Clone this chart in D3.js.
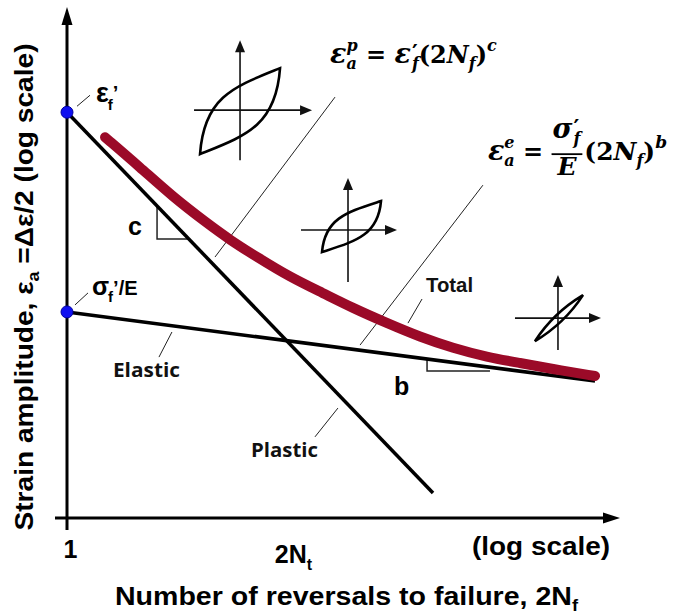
<!DOCTYPE html>
<html><head><meta charset="utf-8">
<script src="https://cdn.jsdelivr.net/npm/d3@7"></script>
<style>body{margin:0;background:#fff}svg{display:block}</style>
</head><body><svg id="c" width="673" height="614"></svg>
<script>
// ---------------- data ----------------
const plasticN = [1, 42950];
const plasticEps = [0.5, 0.000765];
const elasticN = [1, 4.83e6];
const elasticEps = [0.0167, 0.00515];
const totalN = [3.03, 8.4, 22, 59, 116, 254, 665, 1740, 4170, 11200, 29400, 76900, 207000, 542000, 1.42e6, 4.83e6];
const totalEps = [0.327, 0.196, 0.118, 0.0757, 0.0568, 0.0425, 0.0302, 0.0230, 0.0178, 0.0138, 0.0109, 0.00902, 0.00774, 0.00700, 0.00631, 0.00561];
const xTickValues = [1, 665];
const xTickLabels = ["1", "2N_t"];
const anchorN = [1, 1];
const anchorEps = [0.5, 0.0167];
const slopeCornerN = [13.8, 36100];
const slopeCornerEps = [0.0577, 0.0061];
const slopeEndN = [null, 226000];
const slopeLabels = ["c", "b"];
const loopN = [155, 3606, 1.64e6];
const loopEps = [0.518, 0.0673, 0.01503];
const leaderTopN = [2470, 184000, 31200, 21.3, 2690];
const leaderTopEps = [0.647, 0.1445, 0.0208, 0.01186, 0.00325];
const leaderBotN = [74.7, 5120, 20700, 14.6, 1377];
const leaderBotEps = [0.0425, 0.0095, 0.0138, 0.00774, 0.00199];
const curveLabels = ["Elastic", "Plastic", "Total"];

// ---------------- setup ----------------
const svg = d3.select("#c");
const SANS = "'Liberation Sans', Arial, sans-serif";
const NB = "\u00A0";
const x = d3.scaleLog().domain([1, 1e7]).range([67, 620]);
const y = d3.scaleLog().domain([5e-4, 3]).range([518, 7]);
const logInterp = (n0, n1, e0, e1, n) => Math.exp(Math.log(e0) + (Math.log(e1) - Math.log(e0)) * (Math.log(n) - Math.log(n0)) / (Math.log(n1) - Math.log(n0)));
const logInterpInv = (n0, n1, e0, e1, e) => Math.exp(Math.log(n0) + (Math.log(n1) - Math.log(n0)) * (Math.log(e) - Math.log(e0)) / (Math.log(e1) - Math.log(e0)));

function rich(parent, x0, y0, segs, opts) {
  const t = parent.append("text")
    .attr("font-family", opts.family).attr("font-weight", opts.weight || "bold")
    .attr("font-style", opts.style || "normal").attr("font-size", opts.size).attr("fill", "#000");
  let cx = x0, prevStart = x0, prevW = 0;
  segs.forEach(s => {
    const sp = t.append("tspan").attr("y", y0 + (s.dy || 0)).text(s.t);
    if (s.size) sp.attr("font-size", s.size);
    if (s.style) sp.attr("font-style", s.style);
    const sx = (s.stack ? prevStart : cx) + (s.dx || 0);
    sp.attr("x", sx);
    const w = sp.node().getComputedTextLength();
    if (s.stack) { cx = Math.max(prevStart + prevW, sx + w); }
    else { prevStart = sx; prevW = w; cx = sx + w; }
  });
  return { node: t, width: cx - x0 };
}

// ---------------- axes ----------------
const axG = svg.append("g");
axG.append("line").attr("x1", 67).attr("x2", 67).attr("y1", 530).attr("y2", 20)
  .attr("stroke", "#000").attr("stroke-width", 3);
axG.append("path").attr("d", "M67,7 L61.5,25 L72.5,25 Z").attr("fill", "#000");
axG.append("line").attr("x1", 55).attr("x2", 606).attr("y1", 518).attr("y2", 518)
  .attr("stroke", "#000").attr("stroke-width", 3);
axG.append("path").attr("d", "M620,518 L603,512.5 L603,523.5 Z").attr("fill", "#000");

const xAxis = d3.axisBottom(x).tickValues(xTickValues).tickSize(0).tickPadding(22)
  .tickFormat((d, i) => xTickLabels[i]);
const xg = svg.append("g").attr("transform", "translate(0,518)").call(xAxis);
xg.select(".domain").remove();
xg.selectAll("text").each(function (d, i) {
  const lab = xTickLabels[i];
  const t = d3.select(this).attr("font-family", SANS).attr("font-weight", "bold")
    .attr("font-size", 25).attr("fill", "#000");
  if (lab.includes("_")) {
    const [a, b] = lab.split("_");
    t.text(null).attr("dy", "0.91em").attr("x", 3);
    t.append("tspan").text(a);
    t.append("tspan").attr("font-size", 16).attr("dy", 7).text(b);
  } else {
    t.attr("x", 3);
  }
});

// axis titles
const yt = svg.append("text").attr("transform", "translate(33,287) rotate(-90)")
  .attr("text-anchor", "middle").attr("font-family", SANS).attr("font-weight", "bold")
  .attr("font-size", 25).attr("fill", "#000")
  .attr("textLength", 487).attr("lengthAdjust", "spacingAndGlyphs");
yt.append("tspan").text("Strain amplitude, ε");
yt.append("tspan").attr("font-size", 16).attr("dy", 6).text("a");
yt.append("tspan").attr("dy", -6).text(" =Δε/2 (log scale)");

const xt = svg.append("text").attr("x", 115).attr("y", 605).attr("font-family", SANS)
  .attr("font-weight", "bold").attr("font-size", 25).attr("fill", "#000")
  .attr("textLength", 463).attr("lengthAdjust", "spacingAndGlyphs");
xt.append("tspan").text("Number of reversals to failure, 2N");
xt.append("tspan").attr("font-size", 16).attr("dy", 6).text("f");

svg.append("text").attr("x", 472).attr("y", 555)
  .attr("font-family", SANS).attr("font-weight", "bold").attr("font-size", 25)
  .attr("textLength", 138).attr("lengthAdjust", "spacingAndGlyphs")
  .attr("fill", "#000").text("(log scale)");

// ---------------- leader lines ----------------
svg.append("g").selectAll("line").data(leaderTopN).join("line")
  .attr("x1", (d, i) => x(leaderTopN[i])).attr("y1", (d, i) => y(leaderTopEps[i]))
  .attr("x2", (d, i) => x(leaderBotN[i])).attr("y2", (d, i) => y(leaderBotEps[i]))
  .attr("stroke", "#222").attr("stroke-width", 1);

// ---------------- slope triangles ----------------
const triG = svg.append("g").attr("fill", "none").attr("stroke", "#222").attr("stroke-width", 1.5);
{
  const cn = slopeCornerN[0], ce = slopeCornerEps[0];
  const topE = logInterp(plasticN[0], plasticN[1], plasticEps[0], plasticEps[1], cn);
  const endN = logInterpInv(plasticN[0], plasticN[1], plasticEps[0], plasticEps[1], ce);
  triG.append("path").attr("d", `M${x(cn)},${y(topE)} L${x(cn)},${y(ce)} L${x(endN)},${y(ce)}`);
  const bn = slopeCornerN[1], be = slopeCornerEps[1];
  const topB = logInterp(elasticN[0], elasticN[1], elasticEps[0], elasticEps[1], bn);
  triG.append("path").attr("d", `M${x(bn)},${y(topB)} L${x(bn)},${y(be)} L${x(slopeEndN[1])},${y(be)}`);
}
const slopeOff = [[-22, -4], [-25.5, 24]];
slopeLabels.forEach((lab, i) => {
  svg.append("text").attr("x", x(slopeCornerN[i]) + slopeOff[i][0]).attr("y", y(slopeCornerEps[i]) + slopeOff[i][1])
    .attr("text-anchor", "middle").attr("font-family", SANS).attr("font-weight", "bold")
    .attr("font-size", 25).attr("fill", "#000").text(lab);
});

// ---------------- lines ----------------
const line = d3.line().x(d => x(d[0])).y(d => y(d[1]));
svg.append("path").attr("d", line(plasticN.map((n, i) => [n, plasticEps[i]])))
  .attr("fill", "none").attr("stroke", "#000").attr("stroke-width", 3.5);
svg.append("path").attr("d", line(elasticN.map((n, i) => [n, elasticEps[i]])))
  .attr("fill", "none").attr("stroke", "#000").attr("stroke-width", 3.5);
svg.append("path").attr("d", d3.line().x(d => x(d[0])).y(d => y(d[1])).curve(d3.curveBasis)(totalN.map((n, i) => [n, totalEps[i]])))
  .attr("fill", "none").attr("stroke", "#9b0a28").attr("stroke-width", 10).attr("stroke-linecap", "round");

// ---------------- anchor points ----------------
svg.append("g").selectAll("circle").data(anchorN).join("circle")
  .attr("cx", (d, i) => x(anchorN[i])).attr("cy", (d, i) => y(anchorEps[i])).attr("r", 6)
  .attr("fill", "#1010f0").attr("stroke", "#0000a0").attr("stroke-width", 1);
{
  const px = x(anchorN[0]), py = y(anchorEps[0]);
  svg.append("line").attr("x1", px + 10).attr("y1", py - 6).attr("x2", px + 23).attr("y2", py - 17)
    .attr("stroke", "#222").attr("stroke-width", 1);
  rich(svg, px + 29, py - 10, [
    { t: "ε", size: 27 }, { t: "f", size: 15, dy: 8, dx: -1 }, { t: "’", size: 20, dy: -2, dx: 0 }
  ], { family: SANS, size: 22 });
  const qx = x(anchorN[1]), qy = y(anchorEps[1]);
  svg.append("line").attr("x1", qx + 8).attr("y1", qy - 7).attr("x2", qx + 21).attr("y2", qy - 19)
    .attr("stroke", "#222").attr("stroke-width", 1);
  rich(svg, qx + 25, qy - 17, [
    { t: "σ", size: 25 }, { t: "f", size: 15, dy: 7, dx: -1 }, { t: "’/E", size: 20, dx: 0 }
  ], { family: SANS, size: 20 });
}

// ---------------- curve labels ----------------
const labOff = [[-12.5, 20, "middle"], [-30.5, 20, "middle"], [4, -7, "start"]];
const labIdx = [3, 4, 2];
const labFont = ["'Open Sans', sans-serif", "'Open Sans', sans-serif", SANS];
const labSize = [19.5, 19.5, 19.5];
const labLen = [67, 67, 47];
curveLabels.forEach((lab, i) => {
  const k = labIdx[i];
  const bx = i === 2 ? x(leaderTopN[k]) : x(leaderBotN[k]);
  const by = i === 2 ? y(leaderTopEps[k]) : y(leaderBotEps[k]);
  svg.append("text").attr("x", bx + labOff[i][0]).attr("y", by + labOff[i][1])
    .attr("text-anchor", labOff[i][2]).attr("font-family", labFont[i]).attr("font-weight", 700)
    .attr("font-size", labSize[i]).attr("fill", "#111")
    .attr("textLength", labLen[i]).attr("lengthAdjust", "spacingAndGlyphs").text(lab);
});

// ---------------- formulas ----------------
const SERIF = "'DejaVu Serif', serif";
{
  const fx = x(leaderTopN[0]) - 5, fy = y(leaderTopEps[0]) - 34;
  rich(svg, fx, fy, [
    { t: "ε", size: 27 },
    { t: "a", size: 16, dy: 6 },
    { t: "p", size: 16, dy: -12, stack: true },
    { t: NB + "=" + NB, style: "normal", size: 24 },
    { t: "ε", size: 27 },
    { t: "′", size: 22, dy: -3, style: "normal", dx: 1 },
    { t: "f", size: 16, dy: 6, stack: true },
    { t: "(2", style: "normal", size: 24 },
    { t: "N", size: 24 },
    { t: "f", size: 16, dy: 6 },
    { t: ")", style: "normal", size: 24 },
    { t: "c", size: 16, dy: -12 }
  ], { family: SERIF, style: "italic", size: 24 });

  const gx = x(leaderTopN[1]) + 5, gy = y(leaderTopEps[1]) - 25;
  const r1 = rich(svg, gx, gy, [
    { t: "ε", size: 27 },
    { t: "e", size: 16, dy: -12 },
    { t: "a", size: 16, dy: 6, stack: true },
    { t: NB + "=" + NB, style: "normal", size: 24 }
  ], { family: SERIF, style: "italic", size: 24 });
  const numX = gx + r1.width;
  const num = rich(svg, numX + 1, gy - 22, [
    { t: "σ", size: 27 },
    { t: "′", size: 22, dy: -3, style: "normal", dx: 1 },
    { t: "f", size: 16, dy: 6, stack: true }
  ], { family: SERIF, style: "italic", size: 24 });
  const den = rich(svg, 0, gy + 15, [{ t: "E", size: 25 }], { family: SERIF, style: "italic", size: 25 });
  const fw = Math.max(num.width, den.width) + 3;
  den.node.attr("transform", `translate(${numX + (fw - den.width) / 2},0)`);
  svg.append("line").attr("x1", numX).attr("x2", numX + fw).attr("y1", gy - 6).attr("y2", gy - 6)
    .attr("stroke", "#000").attr("stroke-width", 1.8);
  rich(svg, numX + fw + 2, gy, [
    { t: "(2", style: "normal", size: 25 },
    { t: "N", size: 25 },
    { t: "f", size: 16, dy: 6 },
    { t: ")", style: "normal", size: 25 },
    { t: "b", size: 17, dy: -12 }
  ], { family: SERIF, style: "italic", size: 25 });
}

// ---------------- hysteresis loop icons ----------------
const loopShape = [
  { up: 70, down: 50, left: 46, right: 72, A: [-40, 44], B: [40, -42], c1: [-0.9, -0.35], c2: [-0.12, -0.58] },
  { up: 52, down: 52, left: 47, right: 49, A: [-26, 22], B: [33, -29], c1: [-0.9, -0.35], c2: [-0.12, -0.58] },
  { up: 43, down: 32, left: 43, right: 43, A: [-23, 23], B: [25, -23], c1: [-0.5, 0.2], c2: [0.2, -0.5] }
];
loopN.forEach((n, i) => {
  const s = loopShape[i];
  const g = svg.append("g").attr("transform", `translate(${x(n)},${y(loopEps[i])})`);
  g.append("line").attr("x1", 0).attr("x2", 0).attr("y1", s.down).attr("y2", -s.up + 8)
    .attr("stroke", "#111").attr("stroke-width", 1.6);
  g.append("path").attr("d", `M0,${-s.up} L-5,${-s.up + 12} L5,${-s.up + 12} Z`).attr("fill", "#111");
  g.append("line").attr("x1", -s.left).attr("x2", s.right - 8).attr("y1", 0).attr("y2", 0)
    .attr("stroke", "#111").attr("stroke-width", 1.6);
  g.append("path").attr("d", `M${s.right},0 L${s.right - 12},-5 L${s.right - 12},5 Z`).attr("fill", "#111");
  const mx = (s.A[0] + s.B[0]) / 2, my = (s.A[1] + s.B[1]) / 2;
  const wx = (s.B[0] - s.A[0]) / 2, hy = (s.A[1] - s.B[1]) / 2;
  const P = (p, q) => `${mx + p * wx},${my + q * hy}`;
  const d = `M${P(-1, 1)} C${P(s.c1[0], s.c1[1])} ${P(s.c2[0], s.c2[1])} ${P(1, -1)} ` +
            `C${P(-s.c1[0], -s.c1[1])} ${P(-s.c2[0], -s.c2[1])} ${P(-1, 1)} Z`;
  g.append("path").attr("d", d).attr("fill", "none").attr("stroke", "#000")
    .attr("stroke-width", 2.6).attr("stroke-linejoin", "miter");
});
</script>
</body></html>
